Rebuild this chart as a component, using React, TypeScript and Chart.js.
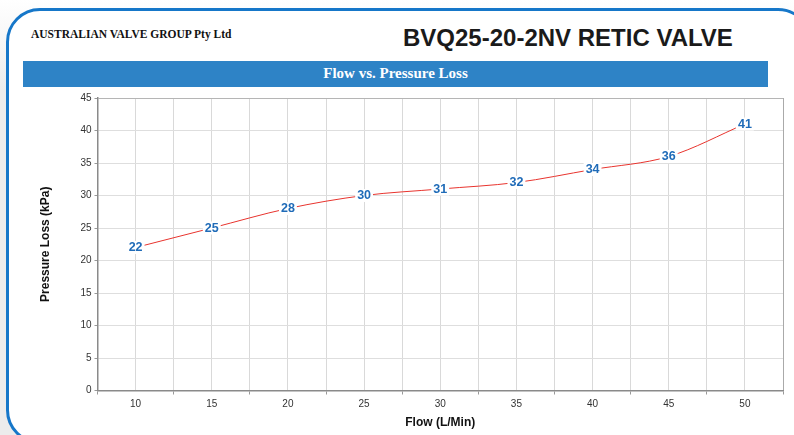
import React, { useEffect, useRef } from "react";
import { Chart, registerables } from "chart.js";

Chart.register(...registerables);

const flowValues = [10, 15, 20, 25, 30, 35, 40, 45, 50];
const pressureValues = [22, 25, 28, 30, 31, 32, 34, 36, 41];
const xGridValues = [7.5, 10, 12.5, 15, 17.5, 20, 22.5, 25, 27.5, 30, 32.5, 35, 37.5, 40, 42.5, 45, 47.5, 50, 52.5];
const yTickValues = [0, 5, 10, 15, 20, 25, 30, 35, 40, 45];

const companyName = "AUSTRALIAN VALVE GROUP Pty Ltd";
const productName = "BVQ25-20-2NV RETIC VALVE";
const chartTitle = "Flow vs. Pressure Loss";
const xTitle = "Flow (L/Min)";
const yTitle = "Pressure Loss (kPa)";

const labelPlugin = {
  id: "valueLabels",
  afterDatasetsDraw(chart: any) {
    const ctx = chart.ctx;
    const meta = chart.getDatasetMeta(0);
    ctx.save();
    ctx.font = "bold 12.5px 'Liberation Sans', Arial, sans-serif";
    ctx.textAlign = "center";
    ctx.textBaseline = "middle";
    meta.data.forEach((pt: any, i: number) => {
      const txt = String(pressureValues[i]);
      const w = ctx.measureText(txt).width;
      ctx.fillStyle = "#ffffff";
      ctx.fillRect(pt.x - w / 2 - 2, pt.y - 6.5, w + 4, 13);
      ctx.fillStyle = "#1f6bb8";
      ctx.fillText(txt, pt.x, pt.y + 0.5);
    });
    ctx.restore();
  },
};

export default function App() {
  const ref = useRef<HTMLCanvasElement>(null);

  useEffect(() => {
    if (!ref.current) return;
    const chart = new Chart(ref.current, {
      type: "line",
      data: {
        datasets: [
          {
            data: flowValues.map((x, i) => ({ x, y: pressureValues[i] })),
            borderColor: "#e8342e",
            borderWidth: 1,
            pointRadius: 0,
            cubicInterpolationMode: "monotone",
            fill: false,
          },
        ],
      },
      options: {
        animation: false,
        responsive: false,
        devicePixelRatio: 1,
        layout: { padding: { top: 98, right: 11, left: 0, bottom: 0 } },
        plugins: { legend: { display: false }, tooltip: { enabled: false }, title: { display: false } },
        scales: {
          x: {
            type: "linear",
            min: 7.5,
            max: 52.5,
            afterBuildTicks: (scale: any) => {
              scale.ticks = xGridValues.map((v) => ({ value: v }));
            },
            afterFit: (scale: any) => {
              scale.height = 44.5;
            },
            ticks: {
              autoSkip: false,
              maxRotation: 0,
              padding: 4,
              color: "#333",
              font: { family: "'Liberation Sans', Arial, sans-serif", size: 10 },
              callback: (v: any) => (Number(v) % 5 === 0 ? String(v) : ""),
            },
            grid: {
              color: (c: any) => (c.tick && c.tick.value === 52.5 ? "#aaaaaa" : "#d9d9d9"),
              lineWidth: 1,
              tickLength: 4,
              tickColor: (c: any) => (c.tick && c.tick.value % 5 === 0 ? "rgba(0,0,0,0)" : "#999999"),
            },
            border: { color: "#8a8a8a", width: 1.5 },
            title: {
              display: true,
              text: xTitle,
              color: "#111",
              font: { family: "'Liberation Sans', Arial, sans-serif", size: 12, weight: "bold" },
              padding: { top: 0, bottom: 5 },
            },
          },
          y: {
            min: 0,
            max: 45,
            afterBuildTicks: (scale: any) => {
              scale.ticks = yTickValues.map((v) => ({ value: v }));
            },
            afterFit: (scale: any) => {
              scale.width = 97.5;
            },
            ticks: {
              padding: 3,
              color: "#333",
              font: { family: "'Liberation Sans', Arial, sans-serif", size: 10 },
            },
            grid: {
              color: (c: any) => (c.tick && c.tick.value === 45 ? "#b5b5b5" : "#dedede"),
              lineWidth: 1,
              tickLength: 3,
              tickColor: "#999999",
            },
            border: { color: "#8a8a8a", width: 1.5 },
            title: {
              display: true,
              text: yTitle,
              color: "#111",
              font: { family: "'Liberation Sans', Arial, sans-serif", size: 12, weight: "bold" },
              padding: { top: 38, bottom: 0 },
            },
          },
        },
      } as any,
      plugins: [labelPlugin],
    });
    return () => chart.destroy();
  }, []);

  return (
    <div
      style={{
        position: "fixed",
        left: 0,
        top: 0,
        width: 794,
        height: 435,
        overflow: "hidden",
        background: "linear-gradient(180deg, #ffffff 0px, #ececec 90px)",
      }}
    >
      <div
        style={{
          position: "absolute",
          left: 6,
          top: 8,
          width: 800,
          height: 430,
          border: "3px solid #1677c9",
          borderRadius: 34,
          background: "#ffffff",
        }}
      />
      <div
        style={{
          position: "absolute",
          left: 31,
          top: 28,
          font: "bold 11.5px 'Liberation Serif', 'Times New Roman', serif",
          color: "#111",
          whiteSpace: "nowrap",
        }}
      >
        {companyName}
      </div>
      <div
        style={{
          position: "absolute",
          left: 403,
          top: 24,
          font: "bold 24px 'Liberation Sans', Arial, sans-serif",
          color: "#1a1a1a",
          whiteSpace: "nowrap",
        }}
      >
        {productName}
      </div>
      <div
        style={{
          position: "absolute",
          left: 23,
          top: 61,
          width: 745,
          height: 26,
          background: "#2e83c6",
          color: "#ffffff",
          font: "bold 15px 'Liberation Serif', 'Times New Roman', serif",
          lineHeight: "25px",
          textAlign: "center",
        }}
      >
        {chartTitle}
      </div>
      <canvas
        ref={ref}
        width={794}
        height={435}
        style={{ position: "absolute", left: 0, top: 0, width: 794, height: 435 }}
      />
    </div>
  );
}
